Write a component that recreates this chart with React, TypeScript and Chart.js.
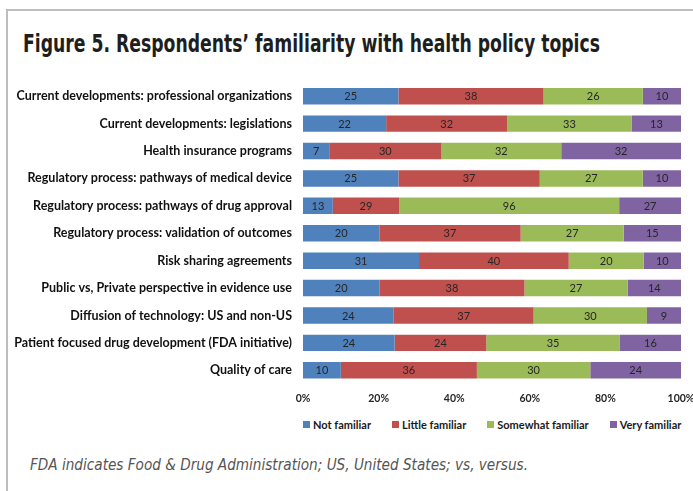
import React, { useEffect, useLayoutEffect, useRef } from "react";
import { Chart, registerables } from "chart.js";

Chart.register(...registerables);

// Survey topics, top to bottom
const topics = [
  "Current developments: professional organizations",
  "Current developments: legislations",
  "Health insurance programs",
  "Regulatory process: pathways of medical device",
  "Regulatory process: pathways of drug approval",
  "Regulatory process: validation of outcomes",
  "Risk sharing agreements",
  "Public vs, Private perspective in evidence use",
  "Diffusion of technology: US and non-US",
  "Patient focused drug development (FDA initiative)",
  "Quality of care",
];

// Respondent counts per familiarity level
const notFamiliar = [25, 22, 7, 25, 13, 20, 31, 20, 24, 24, 10];
const littleFamiliar = [38, 32, 30, 37, 29, 37, 40, 38, 37, 24, 36];
const somewhatFamiliar = [26, 33, 32, 27, 96, 27, 20, 27, 30, 35, 30];
const veryFamiliar = [10, 13, 32, 10, 27, 15, 10, 14, 9, 16, 24];

const seriesNames = ["Not familiar", "Little familiar", "Somewhat familiar", "Very familiar"];
const seriesColors = ["#4F81BD", "#C0504D", "#9BBB59", "#8064A2"];

const titleText = "Figure 5. Respondents\u2019 familiarity with health policy topics";
const footnoteText = "FDA indicates Food & Drug Administration; US, United States; vs, versus.";

const LABEL_FONT = "Lato, 'Open Sans', sans-serif";
const NARROW_FONT = "'DejaVu Sans Condensed', 'DejaVu Sans', sans-serif";

const countSeries = [notFamiliar, littleFamiliar, somewhatFamiliar, veryFamiliar];
const rowTotals = topics.map((_, i) => countSeries.reduce((s, arr) => s + arr[i], 0));

// Writes the respondent count in the middle of each segment
const countLabels = {
  id: "countLabels",
  afterDatasetsDraw(chart: any) {
    const ctx = chart.ctx;
    ctx.save();
    ctx.font = `400 11px ${LABEL_FONT}`;
    ctx.fillStyle = "#262626";
    ctx.textAlign = "center";
    ctx.textBaseline = "middle";
    chart.data.datasets.forEach((ds: any, di: number) => {
      const meta = chart.getDatasetMeta(di);
      meta.data.forEach((el: any, i: number) => {
        const cx = (el.x + el.base) / 2;
        ctx.fillText(String(ds.counts[i]), cx, el.y + 0.5);
      });
    });
    ctx.restore();
  },
};

// Single-line text squeezed horizontally to a given width
function FitText(props: { text: string; width: number; style: React.CSSProperties }) {
  const ref = useRef<HTMLSpanElement>(null);
  useLayoutEffect(() => {
    const el = ref.current;
    if (!el) return;
    el.style.transform = "none";
    const w = el.getBoundingClientRect().width;
    if (w > 0) el.style.transform = `scaleX(${props.width / w})`;
  }, [props.text, props.width]);
  return (
    <span
      ref={ref}
      style={{
        ...props.style,
        position: "absolute",
        whiteSpace: "nowrap",
        transformOrigin: "0 0",
        display: "inline-block",
      }}
    >
      {props.text}
    </span>
  );
}

function FamiliarityChart() {
  const ref = useRef<HTMLCanvasElement>(null);
  useEffect(() => {
    if (!ref.current) return;
    const chart = new Chart(ref.current, {
      type: "bar",
      data: {
        labels: topics,
        datasets: countSeries.map((arr, k) => ({
          label: seriesNames[k],
          data: arr.map((v, i) => (v / rowTotals[i]) * 100),
          counts: arr,
          backgroundColor: seriesColors[k],
          borderWidth: 0,
          barPercentage: 0.6,
          categoryPercentage: 1,
        })) as any,
      },
      options: {
        indexAxis: "y",
        animation: false,
        responsive: false,
        maintainAspectRatio: false,
        layout: { padding: { top: 0, right: 12, left: 0, bottom: 0 } },
        plugins: {
          legend: { display: false },
          tooltip: { enabled: false },
        },
        scales: {
          x: {
            stacked: true,
            min: 0,
            max: 100,
            grid: { display: false, drawTicks: false },
            border: { display: false },
            ticks: {
              stepSize: 20,
              padding: 8,
              color: "#262626",
              font: { family: LABEL_FONT, size: 10.5, weight: "bold" },
              callback: (v: any) => `${v}%`,
            },
            afterFit: (s: any) => {
              s.height = 30;
              s.paddingLeft = 0;
              s.paddingRight = 0;
            },
          },
          y: {
            stacked: true,
            grid: { display: false, drawTicks: false },
            border: { display: false },
            ticks: {
              padding: 11,
              color: "#111111",
              font: { family: LABEL_FONT, size: 12.5, weight: "bold" },
              autoSkip: false,
            },
            afterFit: (s: any) => {
              s.width = 303;
            },
          },
        },
      },
      plugins: [countLabels],
    });
    return () => chart.destroy();
  }, []);
  return (
    <canvas
      ref={ref}
      width={693}
      height={350}
      style={{ position: "absolute", left: 0, top: 64, width: 693, height: 350 }}
    />
  );
}

export default function App() {
  return (
    <div
      style={{
        position: "absolute",
        left: 0,
        top: 0,
        width: 693,
        height: 491,
        overflow: "hidden",
        background: "#ffffff",
      }}
    >
      <div
        style={{
          position: "absolute",
          left: 6,
          top: 9,
          width: 700,
          height: 500,
          borderLeft: "2px solid #BDBDC1",
          borderTop: "2px solid #BDBDC1",
        }}
      />
      <FitText
        text={titleText}
        width={577}
        style={{ left: 23, top: 30, font: `bold 24px ${NARROW_FONT}`, color: "#1e1e1e" }}
      />
      <FamiliarityChart />
      <div
        style={{
          position: "absolute",
          left: 303,
          top: 418,
          display: "flex",
          gap: 21,
          font: `bold 11px ${LABEL_FONT}`,
          color: "#1a1a1a",
          whiteSpace: "nowrap",
        }}
      >
        {seriesNames.map((n, k) => (
          <div key={n} style={{ display: "flex", alignItems: "center", gap: 3 }}>
            <span style={{ width: 7, height: 7, background: seriesColors[k], display: "inline-block" }} />
            <span>{n}</span>
          </div>
        ))}
      </div>
      <FitText
        text={footnoteText}
        width={498}
        style={{ left: 30, top: 455, font: `italic 16px ${NARROW_FONT}`, color: "#555555" }}
      />
    </div>
  );
}
